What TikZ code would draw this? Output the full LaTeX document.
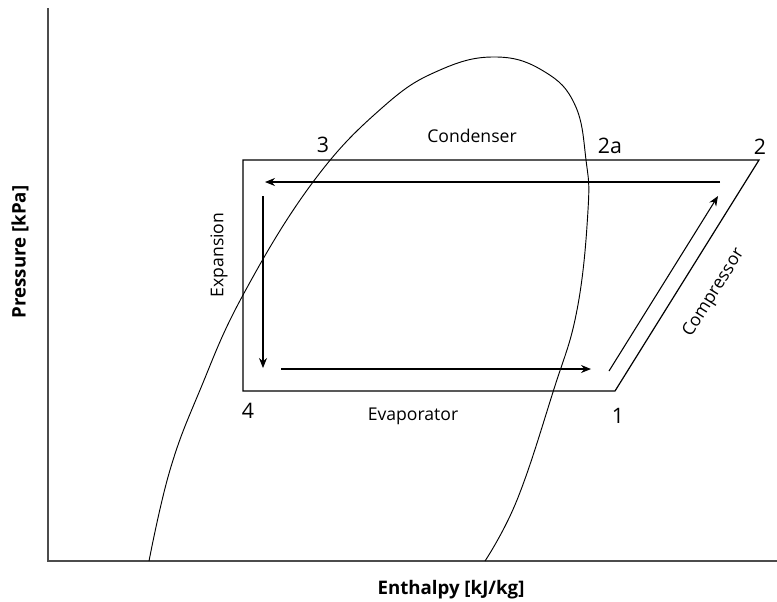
\documentclass[tikz,border=0pt]{standalone}
\usepackage{fontspec}
\setmainfont{Open Sans}
\usetikzlibrary{arrows.meta}
\begin{document}
\begin{tikzpicture}[x=0.75pt,y=-0.75pt,
  lbl/.style={font=\fontsize{13.2}{15}\selectfont,inner sep=1pt},
  num/.style={font=\fontsize{16}{18}\selectfont,inner sep=1pt},
  axlbl/.style={font=\fontsize{14}{16}\selectfont\bfseries},
  flow/.style={-{Stealth[length=7.5pt,width=6pt,inset=2.5pt]},line width=0.8pt}]
\useasboundingbox (0,0) rectangle (777,601);
% axes
\coordinate (ytop) at (48,8);
\coordinate (orig) at (48,561);
\coordinate (xend) at (777,561);
\draw[line width=1.5pt,black!70] (ytop) -- (orig) -- (xend);
\node[axlbl,rotate=90] (ylab) at (20,252) {Pressure [kPa]};
\node[axlbl] (xlab) at (451,590) {Enthalpy [kJ/kg]};
% saturation dome
\draw[line width=0.7pt] plot[smooth,tension=0.7] coordinates {(149,561) (170,470) (200,390) (243,295) (313,182) (383,107) (440,70) (497,57) (545,72) (575,105) (586,160) (588,210) (577,310) (553,392) (517,500) (485,561)};
% cycle corners
\coordinate (c1) at (615,391);
\coordinate (c2) at (759,160);
\coordinate (c3) at (243,160);
\coordinate (c4) at (243,391);
\draw[line width=0.9pt] (c4) -- (c1) -- (c2) -- (c3) -- cycle;
% flow arrows
\coordinate (a1s) at (609,371);
\coordinate (a1e) at (718,196);
\coordinate (a2s) at (720,182);
\coordinate (a2e) at (265,182);
\coordinate (a3s) at (263,196);
\coordinate (a3e) at (263,368);
\coordinate (a4s) at (281,369);
\coordinate (a4e) at (591,369);
\draw[flow] (a1s) -- (a1e);
\draw[flow] (a2s) -- (a2e);
\draw[flow] (a3s) -- (a3e);
\draw[flow] (a4s) -- (a4e);
% labels
\node[num] (n3) at (323,145) {3};
\node[num] (n2a) at (610,146) {2a};
\node[num] (n2) at (760,147) {2};
\node[num] (n4) at (248,411) {4};
\node[num] (n1) at (618,416) {1};
\node[lbl] (cond) at (472,136) {Condenser};
\node[lbl] (evap) at (413,416) {Evaporator};
\node[lbl,rotate=90] (expn) at (219,255) {Expansion};
\node[lbl,rotate=58] (comp) at (714,293) {Compressor};
\end{tikzpicture}
\end{document}
